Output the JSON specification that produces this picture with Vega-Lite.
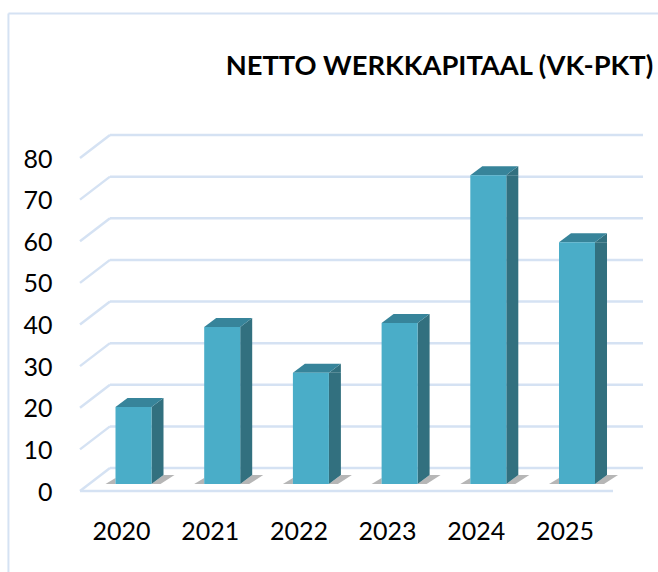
{
"$schema":"https://vega.github.io/schema/vega-lite/v6.json",
"width":533,"height":333,
"autosize":{"type":"none"},
"padding":{"left":110,"top":135,"right":15,"bottom":104},
"background":"white",
"config":{"view":{"stroke":null},"font":"Lato"},
"datasets":{
"bars":[{"year":2020,"value":18.5},{"year":2021,"value":37.7},{"year":2022,"value":26.7},{"year":2023,"value":38.7},{"year":2024,"value":74.2},{"year":2025,"value":58.1}],
"grid":[{"level":0},{"level":10},{"level":20},{"level":30},{"level":40},{"level":50},{"level":60},{"level":70},{"level":80}],
"heading":[{"label":"NETTO WERKKAPITAAL (VK-PKT)"}]
},
"layer":[
{"data":{"name":"grid"},"mark":{"type":"rule","color":"#D5E2F3","strokeWidth":2.5},
 "encoding":{"y":{"field":"level","type":"quantitative","scale":{"domain":[0,80],"nice":false,"zero":false},
   "axis":{"values":[0,10,20,30,40,50,60,70,80],"title":null,"grid":false,"ticks":false,"domain":false,"labelFont":"Lato","labelFontSize":25,"labelColor":"#000000","labelPadding":58,"labelOffset":24}}}},
{"data":{"name":"grid"},"mark":{"type":"rule","color":"#D5E2F3","strokeWidth":2.5,"x2Offset":-30,"y2Offset":23},
 "encoding":{"x":{"datum":2019.735,"type":"quantitative","scale":{"domain":[2019.735,2025.744],"nice":false,"zero":false,"padding":0},
   "axis":{"values":[2020,2021,2022,2023,2024,2025],"format":"d","title":null,"grid":false,"ticks":false,"domain":false,"labelFont":"Lato","labelFontSize":25,"labelColor":"#000000","labelPadding":51,"labelOffset":-12.5}},
   "x2":{"datum":2019.735},
   "y":{"field":"level","type":"quantitative"},"y2":{"field":"level"}}},
{"data":{"name":"grid"},"transform":[{"filter":"datum.level === 0"}],"mark":{"type":"rule","color":"#D5E2F3","strokeWidth":2.5,"xOffset":-30,"yOffset":23,"y2Offset":23},
 "encoding":{"x":{"datum":2019.735,"type":"quantitative"},"x2":{"datum":2025.406},"y":{"field":"level","type":"quantitative"},"y2":{"field":"level"}}},
{"data":{"name":"grid"},"transform":[{"filter":"datum.level === 0"}],"mark":{"type":"rule","color":"#D5E2F3","strokeWidth":2},
 "encoding":{"x":{"datum":2018.59,"type":"quantitative"},"y":{"datum":109.2,"type":"quantitative"},"y2":{"datum":-25.2}}},
{"data":{"name":"grid"},"transform":[{"filter":"datum.level === 0"}],"mark":{"type":"rule","color":"#D5E2F3","strokeWidth":2},
 "encoding":{"y":{"datum":109.2,"type":"quantitative"},"x":{"datum":2018.59,"type":"quantitative"},"x2":{"datum":2025.913}}},
{"data":{"name":"heading"},"mark":{"type":"text","align":"left","baseline":"alphabetic","font":"Lato","fontSize":27.3,"fontWeight":"bold","color":"#000000"},
 "encoding":{"text":{"field":"label"},"x":{"datum":2021.04,"type":"quantitative"},"y":{"datum":94.5,"type":"quantitative"}}},
{"data":{"name":"bars"},"mark":{"type":"point","filled":true,"opacity":0.55,"color":"#7a7a7a","strokeWidth":0,"size":4,"yOffset":16,"shape":"M-18,0L-28,0L-18,-6ZM18,0L30,-9L41,-9L27,0Z"},
 "encoding":{"x":{"field":"year","type":"quantitative"},"y":{"datum":0,"type":"quantitative"}}},
{"data":{"name":"bars"},"mark":{"type":"bar","orient":"vertical","width":12,"xOffset":24,"yOffset":16,"y2Offset":7,"color":"#32707F"},
 "encoding":{"x":{"field":"year","type":"quantitative"},"y":{"field":"value","type":"quantitative"},"y2":{"datum":0}}},
{"data":{"name":"bars"},"mark":{"type":"point","filled":true,"opacity":1,"color":"#32707F","strokeWidth":0,"size":4,"yOffset":16,"shape":"M18,0L30,-9L30,0Z"},
 "encoding":{"x":{"field":"year","type":"quantitative"},"y":{"field":"value","type":"quantitative"}}},
{"data":{"name":"bars"},"mark":{"type":"point","filled":true,"opacity":1,"color":"#32707F","strokeWidth":0,"size":4,"yOffset":16,"shape":"M18,0L30,-9L18,-9Z"},
 "encoding":{"x":{"field":"year","type":"quantitative"},"y":{"datum":0,"type":"quantitative"}}},
{"data":{"name":"bars"},"mark":{"type":"point","filled":true,"opacity":1,"color":"#37849A","strokeWidth":0,"size":4,"yOffset":16,"shape":"M-18,0L18,0L30,-9L-6,-9Z"},
 "encoding":{"x":{"field":"year","type":"quantitative"},"y":{"field":"value","type":"quantitative"}}},
{"data":{"name":"bars"},"mark":{"type":"bar","orient":"vertical","width":36,"yOffset":16,"y2Offset":16,"color":"#4AADC8"},
 "encoding":{"x":{"field":"year","type":"quantitative"},"y":{"field":"value","type":"quantitative"},"y2":{"datum":0}}}
]
}
